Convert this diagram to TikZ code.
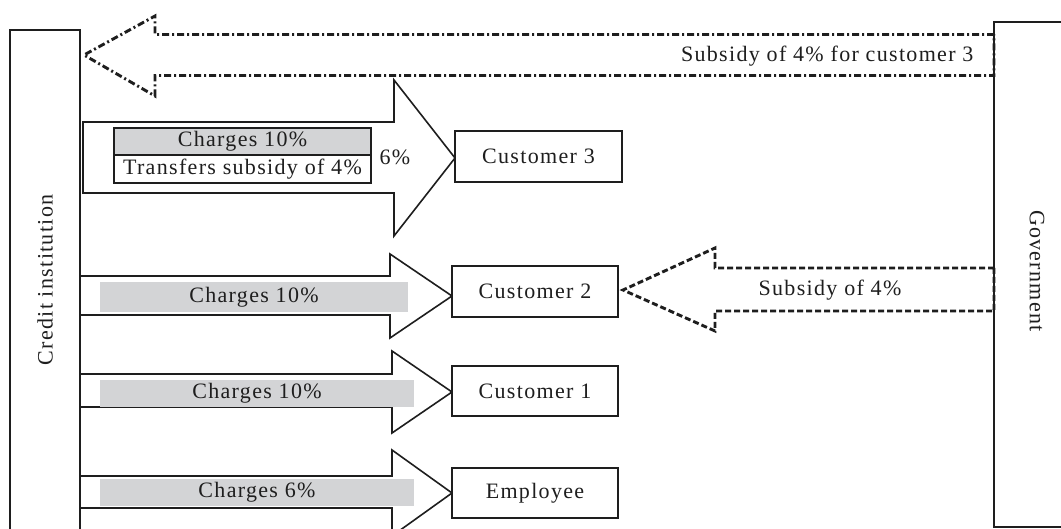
\documentclass[tikz,border=0pt]{standalone}
\usepackage{fontspec}
\setmainfont[LetterSpace=6]{Liberation Serif}
\definecolor{cgray}{RGB}{211,212,214}
\definecolor{cline}{RGB}{30,30,30}
\begin{document}
\begin{tikzpicture}[x=1pt,y=-1pt,
  every node/.style={font=\fontsize{22}{26}\selectfont, text=cline},
  bigarrow/.style={draw=cline, line width=1.6pt, fill=white, line join=miter},
  box/.style={draw=cline, line width=1.6pt, fill=white},
  graybar/.style={fill=cgray, draw=none},
  dashdotline/.style={draw=cline, line width=2.9pt, dash pattern=on 7pt off 3pt on 2pt off 3pt},
  dashline/.style={draw=cline, line width=2.9pt, dash pattern=on 6pt off 3pt}]
\clip (0,0) rectangle (1061,529);
\fill[white] (0,0) rectangle (1061,529);

% main boxes
\draw[box] (10,30) rectangle (80,560);
\node[rotate=90] (credit) at (45,280) {Credit institution};
\draw[box] (994,22) rectangle (1080,527);
\node[rotate=-90] (gov) at (1037,271) {Government};

% top dash-dot arrow (government -> credit institution)
\draw[dashdotline] (994,34.5) -- (155,34.5) -- (155,16) -- (84,55) -- (155,96) -- (155,75.5) -- (994,75.5) -- cycle;
\node[anchor=east] (sub3) at (977,56) {Subsidy of 4\% for customer 3};

% customer 3 arrow
\draw[bigarrow] (83,122) -- (394,122) -- (394,80) -- (455,158) -- (394,236) -- (394,193) -- (83,193) -- cycle;
\draw[draw=cline, line width=2pt, fill=cgray] (114,128) rectangle (371,155);
\draw[draw=cline, line width=2pt, fill=white] (114,155) rectangle (371,183);
\node (ch3) at (242.5,141.5) {Charges 10\%};
\node (tr3) at (242.5,169) {Transfers subsidy of 4\%};
\node (six) at (395,157) {6\%};
\draw[box] (455,131) rectangle (622,182);
\node (c3) at (538.5,156.5) {Customer 3};

% customer 2 arrow
\draw[bigarrow] (80,276) -- (390,276) -- (390,254) -- (452,296) -- (390,338) -- (390,315) -- (80,315) -- cycle;
\fill[graybar] (100,282) rectangle (408,312);
\node (ch2) at (254,297) {Charges 10\%};
\draw[box] (452,266) rectangle (618,317);
\node (c2) at (535,291.5) {Customer 2};

% customer 1 arrow
\draw[bigarrow] (80,374) -- (392,374) -- (392,351) -- (452,392) -- (392,433) -- (392,407) -- (80,407) -- cycle;
\fill[graybar] (100,380) rectangle (414,407);
\node (ch1) at (257,393.5) {Charges 10\%};
\draw[box] (452,366) rectangle (618,416);
\node (c1) at (535,391) {Customer 1};

% employee arrow
\draw[bigarrow] (80,476) -- (392,476) -- (392,450) -- (452,493) -- (392,536) -- (392,508) -- (80,508) -- cycle;
\fill[graybar] (100,479) rectangle (414,506);
\node (che) at (257,492.5) {Charges 6\%};
\draw[box] (452,468) rectangle (618,518);
\node (emp) at (535,493) {Employee};

% subsidy dashed arrow (government -> customer 2)
\draw[dashline] (994,268) -- (715,268) -- (715,248) -- (623,290) -- (715,331) -- (715,311) -- (994,311) -- cycle;
\node (sub2) at (830,290) {Subsidy of 4\%};

% credit box right edge on top
\draw[cline, line width=1.6pt] (80,30) -- (80,560);
\end{tikzpicture}
\end{document}
